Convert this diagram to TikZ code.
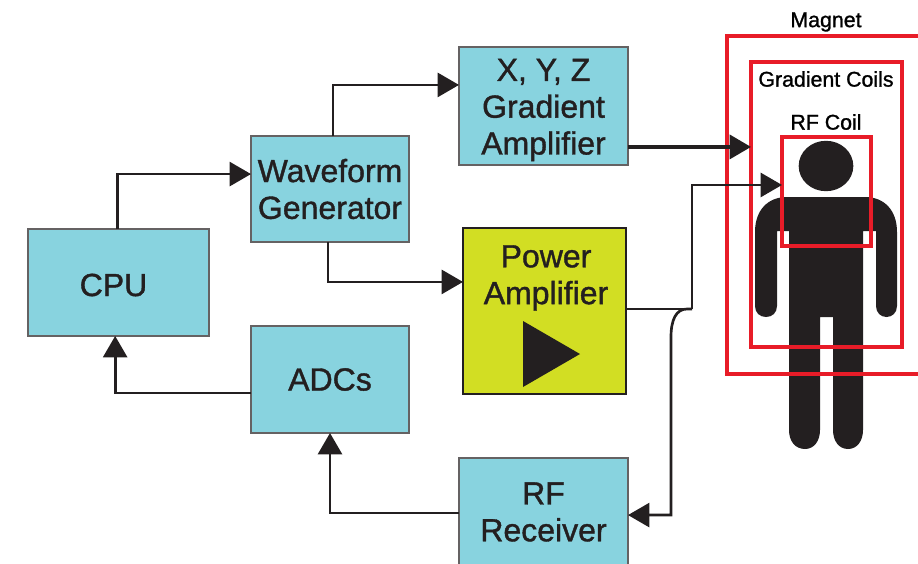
\documentclass[tikz,border=0pt]{standalone}
\usepackage{xcolor}
\usepackage{fontspec}
\setmainfont{Liberation Sans}[RawFeature={embolden=1.2}]
\usetikzlibrary{arrows.meta,positioning}
\definecolor{mriTeal}  {RGB}{136,211,223}
\definecolor{mriYellow}{RGB}{210,222, 35}
\definecolor{mriRed}   {RGB}{232, 28, 40}
\definecolor{mriInk}   {RGB}{ 35, 31, 32}
\begin{document}
\begin{tikzpicture}[
  x=0.75pt,y=-0.75pt,
  font=\fontsize{24}{27.6}\selectfont,
  box/.style={rectangle,draw=mriInk!70,line width=0.8pt,fill=mriTeal,text=mriInk,
              align=center,inner sep=0pt,outer sep=0pt},
  ampbox/.style={rectangle,draw=mriInk,line width=2.2pt,fill=mriYellow,
                 inner sep=0pt,outer sep=0pt},
  coil/.style={rectangle,draw=mriRed,line width=2.8pt,anchor=north west,
               inner sep=0pt,outer sep=0pt},
  coillabel/.style={font=\fontsize{16}{18}\selectfont,text=black,inner sep=0pt},
  boxlabel/.style={text=mriInk,align=center,inner sep=0pt},
  link/.style={draw=mriInk,line width=2pt,
               -{Triangle[length=16pt,width=18pt,color=mriInk]}},
  wire/.style={draw=mriInk,line width=2pt}
]
\useasboundingbox (0,0) rectangle (918,564);
\clip (0,0) rectangle (918,564);

% --- Person
\fill[mriInk] (826,166) ellipse [x radius=20.5pt,y radius=18.9pt];
\fill[mriInk] (826,197) -- (787,197) .. controls (768,197) and (755,210) .. (755,232)
  -- (755,306) .. controls (755,313) and (760,317) .. (766,317)
  .. controls (772,317) and (777,313) .. (777,306) -- (777,231) -- (789,231)
  -- (789,430) .. controls (789,441) and (795,449) .. (805,449)
  .. controls (814,449) and (820,441) .. (820,430) -- (820,317) -- (833,317)
  -- (833,430) .. controls (833,441) and (839,449) .. (848,449)
  .. controls (857,449) and (863,441) .. (863,430) -- (863,231) -- (876,231)
  -- (876,306) .. controls (876,313) and (881,317) .. (886.5,317)
  .. controls (892,317) and (897,313) .. (897,306) -- (897,232)
  .. controls (897,210) and (884,197) .. (865,197) -- cycle;

% --- Coils (magnet runs off the right edge)
\node[coil,minimum width=210pt,minimum height=253.5pt] (magnet) at (727,36) {};
\node[coil,minimum width=113.25pt,minimum height=213.75pt] (gradient) at (751,62) {};
\node[coil,minimum width=66.75pt,minimum height=81.75pt] (rfcoil) at (782,137) {};
\node[coillabel] (magnetL) at (826,22) {Magnet};
\node[coillabel] (gradientL) at (826,79) {Gradient Coils};
\node[coillabel] (rfcoilL) at (826,122) {RF Coil};

% --- Blocks
\node[box,minimum width=135.75pt,minimum height=80.25pt] (cpu) at (118.5,282.5) {};
\node[box,minimum width=118.5pt,minimum height=79.5pt] (wave) at (330,189) {Waveform\\Generator};
\node[box,minimum width=126.75pt,minimum height=88.5pt] (xyz) at (543.5,106) {};
\node[ampbox,minimum width=122.25pt,minimum height=124.5pt] (power) at (544.5,311) {};
\node[box,minimum width=118.5pt,minimum height=80.25pt] (adc) at (330,379.5) {ADCs};
\node[box,minimum width=126.75pt,minimum height=81pt] (receiver) at (543.5,512) {RF\\Receiver};
\node[boxlabel] (cpuL) at (113.5,285) {CPU};
\node[boxlabel] (xyzL) at (543.5,110) {X, Y, Z\\Gradient\\Amplifier};
\node[boxlabel] (powerL) at (546,278) {Power\\Amplifier};
\fill[mriInk] (523,321) -- (580,354) -- (523,387) -- cycle;

% --- Connectors
\coordinate (split) at (692,309);
\coordinate (drop) at (671,337);
\draw[link] ([xshift=-1pt] cpu.north) |- ([yshift=11.2pt] wave.west);
\draw[link] ([xshift=2.2pt] wave.north) |- ([yshift=15.8pt] xyz.west);
\draw[link] ([xshift=-1.5pt] wave.south) |- ([yshift=21.8pt] power.west);
\draw[link] ([yshift=-10pt] adc.west) -| ([xshift=-2.5pt] cpu.south);
\draw[link] ([yshift=-0.8pt] receiver.west) -| (adc.south);
\draw[link,line width=2.6pt] ([yshift=-30.7pt] xyz.east) -- ++(92.25pt,0);
\draw[wire] ([yshift=1.5pt] power.east) -- (split);
\draw[link] (split) |- ([yshift=4.9pt] rfcoil.west);
\draw[link] (split) -- (687,309) .. controls (676,309) and (671,320) .. (drop) |- ([yshift=-2.3pt] receiver.east);
\end{tikzpicture}
\end{document}
